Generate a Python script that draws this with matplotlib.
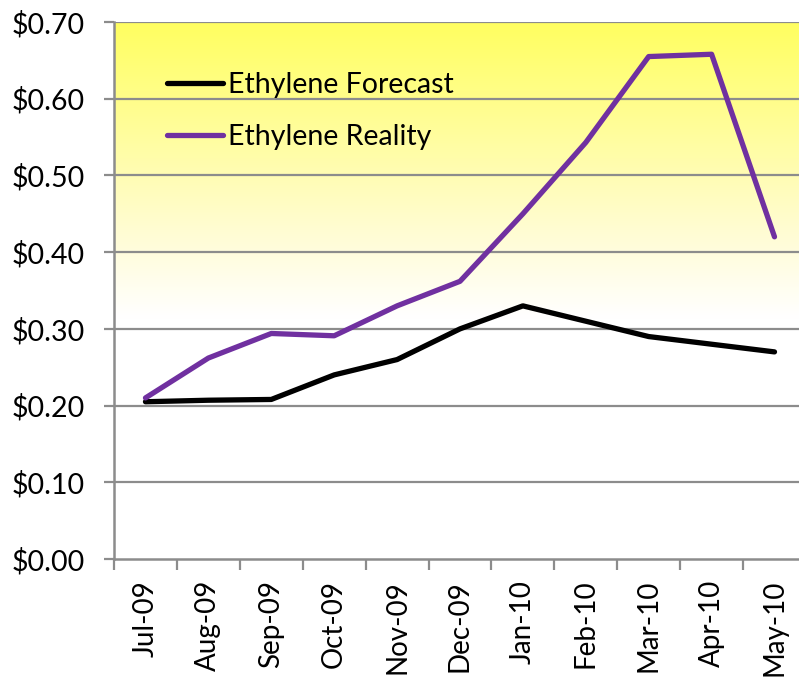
import numpy as np
import matplotlib.pyplot as plt
from matplotlib.colors import LinearSegmentedColormap

# Data
months = ["Jul-09", "Aug-09", "Sep-09", "Oct-09", "Nov-09", "Dec-09",
          "Jan-10", "Feb-10", "Mar-10", "Apr-10", "May-10"]
forecast = [0.205, 0.207, 0.208, 0.240, 0.260, 0.300,
            0.330, 0.310, 0.290, 0.280, 0.270]
reality = [0.210, 0.262, 0.294, 0.291, 0.330, 0.362,
           0.450, 0.543, 0.655, 0.658, 0.420]

plt.rcParams['font.family'] = ['Lato', 'DejaVu Sans']

fig = plt.figure(figsize=(7.99, 6.78), dpi=100)
ax = fig.add_axes([0.1427, 0.1755, 0.866, 0.792])

x = np.arange(len(months))
ax.set_xlim(-0.5, len(months) - 0.5)
ax.set_ylim(0, 0.70)

# Yellow gradient background fading to white
cmap = LinearSegmentedColormap.from_list(
    "bg", [(0.0, "#ffffff"), (0.45, "#ffffff"), (0.62, "#fffcd0"),
           (1.0, "#ffff60")])
grad = np.linspace(0, 1, 256).reshape(-1, 1)
ax.imshow(grad, aspect="auto", cmap=cmap, origin="lower",
          extent=(-0.5, len(months) - 0.5, 0, 0.70), zorder=0)

# Grid
for v in np.arange(0.1, 0.71, 0.1):
    ax.axhline(v, color="#8c8c8c", lw=1.6, zorder=1)

ax.plot(x, forecast, color="black", lw=3.8, label="Ethylene Forecast",
        solid_capstyle="round", zorder=3)
ax.plot(x, reality, color="#7030a0", lw=3.8, label="Ethylene Reality",
        solid_capstyle="round", zorder=3)

# Axes styling
for s in ["top", "right"]:
    ax.spines[s].set_visible(False)
for s in ["left", "bottom"]:
    ax.spines[s].set_color("#8c8c8c")
    ax.spines[s].set_linewidth(1.8)

ax.set_yticks(np.arange(0, 0.71, 0.1))
ax.set_yticklabels(["$%.2f" % v for v in np.arange(0, 0.71, 0.1)])
ax.tick_params(axis="y", length=7, width=1.6, color="#8c8c8c",
               labelsize=20.5, pad=14)

ax.set_xticks(x)
ax.set_xticklabels(months, rotation=90)
ax.set_xticks(np.arange(-0.5, len(months)), minor=True)
ax.tick_params(axis="x", which="major", length=0, labelsize=20, pad=15)
ax.tick_params(axis="x", which="minor", length=8, width=1.6,
               color="#8c8c8c")

leg = ax.legend(loc="upper left", bbox_to_anchor=(0.04, 0.955),
                frameon=False, fontsize=20.5, handlelength=1.95,
                handletextpad=0.18, labelspacing=0.93)

fig.savefig("out.png", dpi=100)
